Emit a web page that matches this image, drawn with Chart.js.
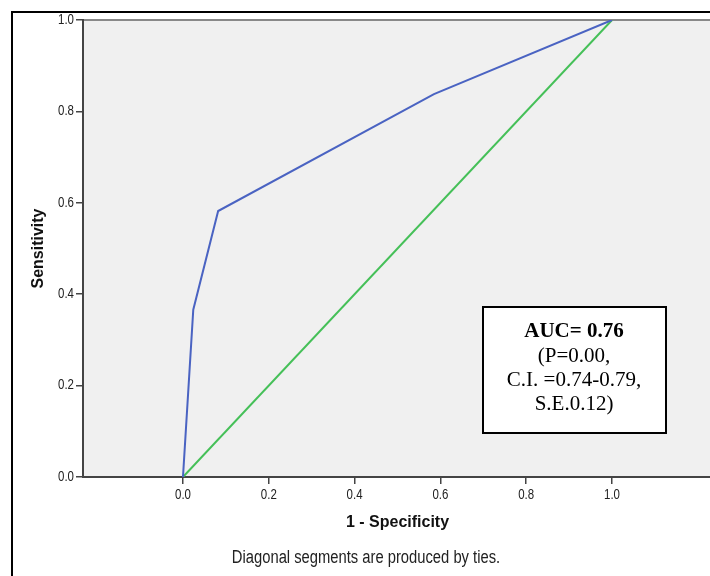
<!DOCTYPE html>
<html>
<head>
<meta charset="utf-8">
<script src="https://cdn.jsdelivr.net/npm/chart.js@4"></script>
<style>
  html, body { margin: 0; padding: 0; background: #fff; overflow: hidden; }
  #wrap { width: 720px; height: 576px; position: relative; }
</style>
</head>
<body>
<div id="wrap"><canvas id="rocChart" width="720" height="576"></canvas></div>
<script>
// ROC curve points (1 - specificity, sensitivity)
const rocX = [0, 0.024, 0.082, 0.585, 1];
const rocY = [0, 0.366, 0.582, 0.838, 1];
// reference line
const refX = [0, 1];
const refY = [0, 1];
const xTicks = [0, 0.2, 0.4, 0.6, 0.8, 1.0];
const yTicks = [0, 0.2, 0.4, 0.6, 0.8, 1.0];
const aucLines = ['AUC= 0.76', '(P=0.00,', 'C.I. =0.74-0.79,', 'S.E.0.12)'];
const footNote = 'Diagonal segments are produced by ties.';

const sans = '"Liberation Sans", Arial, sans-serif';

// condensed text: regular sans squeezed horizontally
function narrowText(ctx, text, x, y, size, align) {
	ctx.save();
	ctx.font = size + 'px ' + sans;
	ctx.textAlign = align;
	ctx.textBaseline = 'middle';
	ctx.translate(x, y);
	ctx.scale(0.82, 1);
	ctx.fillText(text, 0, 0);
	ctx.restore();
}

const decor = {
	id: 'decor',
	beforeDraw: function(chart) {
		const ctx = chart.ctx, a = chart.chartArea;
		ctx.save();
		ctx.fillStyle = '#f0f0f0';
		ctx.fillRect(a.left, a.top, a.right - a.left, a.bottom - a.top);
		// top edge of plot frame
		ctx.strokeStyle = '#888';
		ctx.lineWidth = 2;
		ctx.beginPath();
		ctx.moveTo(a.left, a.top);
		ctx.lineTo(a.right, a.top);
		ctx.stroke();
		ctx.restore();
	},
	afterDraw: function(chart) {
		const ctx = chart.ctx;
		const xs = chart.scales.x, ys = chart.scales.y;
		ctx.save();

		// tick labels
		ctx.fillStyle = '#222';
		xTicks.forEach(v => narrowText(ctx, v.toFixed(1), xs.getPixelForValue(v), 495, 14, 'center'));
		yTicks.forEach(v => narrowText(ctx, v.toFixed(1), 74, ys.getPixelForValue(v), 14, 'right'));

		// outer frame
		ctx.strokeStyle = '#000';
		ctx.lineWidth = 2;
		ctx.beginPath();
		ctx.moveTo(12, 600);
		ctx.lineTo(12, 12);
		ctx.lineTo(730, 12);
		ctx.stroke();

		// AUC box
		ctx.fillStyle = '#fff';
		ctx.fillRect(483, 307, 183, 126);
		ctx.strokeRect(483, 307, 183, 126);
		ctx.fillStyle = '#000';
		ctx.textAlign = 'center';
		ctx.textBaseline = 'middle';
		aucLines.forEach((t, i) => {
			ctx.font = (i == 0 ? 'bold ' : '') + '21px "Liberation Serif", "Times New Roman", serif';
			ctx.fillText(t, 574, 332 + i * 24);
		});

		// footnote
		ctx.fillStyle = '#222';
		narrowText(ctx, footNote, 366, 558, 18, 'center');
		ctx.restore();
	}
};

new Chart(document.getElementById('rocChart'), {
	type: 'scatter',
	data: {
		datasets: [{
			data: toPoints(rocX, rocY),
			showLine: true,
			borderColor: '#4a63c2',
			borderWidth: 2,
			pointRadius: 0,
			tension: 0
		}, {
			data: toPoints(refX, refY),
			showLine: true,
			borderColor: '#45c058',
			borderWidth: 2,
			pointRadius: 0,
			tension: 0
		}]
	},
	options: {
		responsive: false,
		animation: false,
		layout: { padding: { left: 0, top: 20, right: 8, bottom: 0 } },
		plugins: { legend: { display: false }, tooltip: { enabled: false } },
		scales: {
			x: {
				type: 'linear',
				min: -0.233,
				max: 1.233,
				afterFit: function(s) { s.height = 99; },
				afterBuildTicks: function(s) { s.ticks = xTicks.map(v => ({value: v})); },
				grid: { drawOnChartArea: false, tickLength: 7, color: '#444', lineWidth: 1.5 },
				border: { color: '#444', width: 2 },
				ticks: { display: false },
				title: {
					display: true,
					text: '1 - Specificity',
					color: '#111',
					font: { family: sans, size: 16, weight: 'bold' },
					padding: { top: 0, bottom: 44 }
				}
			},
			y: {
				type: 'linear',
				min: 0,
				max: 1,
				afterFit: function(s) { s.width = 83; },
				afterBuildTicks: function(s) { s.ticks = yTicks.map(v => ({value: v})); },
				grid: { drawOnChartArea: false, tickLength: 7, color: '#444', lineWidth: 1.5 },
				border: { color: '#444', width: 2 },
				ticks: { display: false },
				title: {
					display: true,
					text: 'Sensitivity',
					color: '#111',
					font: { family: sans, size: 16, weight: 'bold' },
					padding: { top: 29, bottom: 0 }
				}
			}
		}
	},
	plugins: [decor]
});

function toPoints(xs, ys) {
	return xs.map((x, i) => ({x: x, y: ys[i]}));
}
</script>
</body>
</html>
